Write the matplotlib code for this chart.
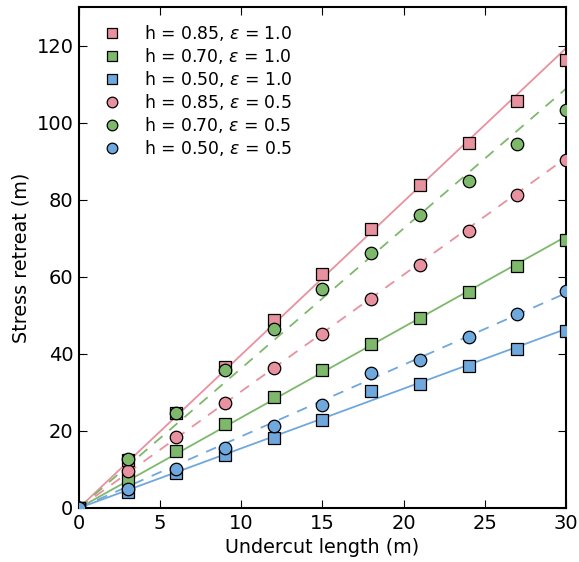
import matplotlib
matplotlib.use("Agg")
import matplotlib.pyplot as plt
import numpy as np

x = [0, 3, 6, 9, 12, 15, 18, 21, 24, 27, 30]

labels = [r"h = 0.85, $\varepsilon$ = 1.0", r"h = 0.70, $\varepsilon$ = 1.0", r"h = 0.50, $\varepsilon$ = 1.0",
          r"h = 0.85, $\varepsilon$ = 0.5", r"h = 0.70, $\varepsilon$ = 0.5", r"h = 0.50, $\varepsilon$ = 0.5"]

y_085_10 = [0, 12.5, 24.8, 36.7, 48.7, 60.8, 72.4, 83.8, 94.8, 105.8, 116.3]
y_070_10 = [0, 7.5, 14.7, 21.8, 28.7, 35.8, 42.5, 49.3, 56.0, 62.8, 69.5]
y_050_10 = [0, 4.2, 9.0, 13.7, 18.3, 22.8, 30.3, 32.3, 36.8, 41.4, 46.1]
y_085_05 = [0, 9.5, 18.5, 27.3, 36.3, 45.3, 54.2, 63.2, 72.0, 81.3, 90.3]
y_070_05 = [0, 12.7, 24.8, 35.8, 46.5, 56.8, 66.3, 76.0, 85.0, 94.5, 103.3]
y_050_05 = [0, 5.0, 10.0, 15.6, 21.3, 26.7, 35.0, 38.4, 44.3, 50.3, 56.4]

# fitted line slopes (m/m)
fit_slopes = [3.98, 2.35, 1.55, 3.03, 3.63, 1.86]

series = [y_085_10, y_070_10, y_050_10, y_085_05, y_070_05, y_050_05]
colors = ["#E8919F", "#7DB86B", "#6FA8DC", "#E8919F", "#7DB86B", "#6FA8DC"]
markers = ["s", "s", "s", "o", "o", "o"]
styles = ["-", "-", "-", "--", "--", "--"]

fig = plt.figure(figsize=(5.79, 5.62), dpi=100)
ax = fig.add_axes([0.1364, 0.0961, 0.8411, 0.8906])

xl = np.array([0, 30])
for ys, c, s, slope in zip(series, colors, styles, fit_slopes):
    ax.plot(xl, slope * xl, color=c, ls=s, lw=1.3, dashes=(6, 5) if s == "--" else (None, None), zorder=2)

for ys, c, m, lab in zip(series, colors, markers, labels):
    ax.plot(x, ys, ls="none", marker=m, ms=9, mfc=c, mec="black", mew=0.9,
            label=lab, zorder=3, clip_on=True)

ax.set_xlim(0, 30)
ax.set_ylim(0, 130)
ax.set_xticks(range(0, 31, 5))
ax.set_yticks(range(0, 121, 20))
ax.tick_params(direction="in", top=True, right=True, labelsize=14, length=6, width=0.8, pad=4)
for sp in ax.spines.values():
    sp.set_linewidth(1.5)
ax.set_xlabel("Undercut length (m)", fontsize=13.8, labelpad=4)
ax.set_ylabel("Stress retreat (m)", fontsize=13.8)

leg = ax.legend(loc="upper left", frameon=False, fontsize=12.4, numpoints=1,
                handletextpad=0.9, labelspacing=0.18, borderaxespad=0.5, markerscale=0.85)

fig.savefig("out.png", dpi=100)
